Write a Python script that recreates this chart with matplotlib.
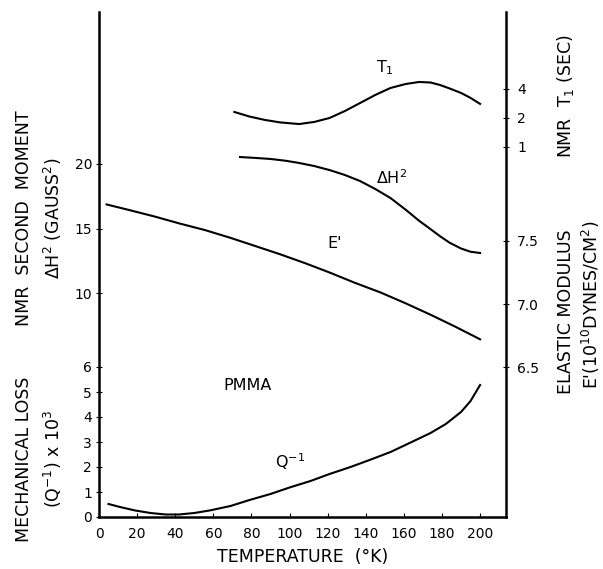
import numpy as np
import matplotlib
matplotlib.use("Agg")
import matplotlib.pyplot as plt

plt.rcParams['font.family'] = ['DejaVu Sans']
plt.rcParams['mathtext.default'] = 'regular'

# courbes (temperature en K)
temp_q = [5, 11, 19, 27, 35, 42, 50, 58, 69, 79, 90, 100, 111, 121, 132, 142,
          153, 163, 174, 182, 190, 195, 200]
q_inv = [0.52, 0.40, 0.26, 0.16, 0.10, 0.10, 0.16, 0.26, 0.44, 0.68, 0.92, 1.18,
         1.44, 1.72, 2.00, 2.28, 2.60, 2.96, 3.36, 3.72, 4.20, 4.64, 5.28]

temp_e = [4, 16, 29, 42, 56, 69, 82, 95, 108, 121, 134, 148, 161, 174, 187, 200]
e_mod = [7.79, 7.745, 7.695, 7.64, 7.585, 7.525, 7.46, 7.395, 7.325, 7.25, 7.17,
         7.09, 7.005, 6.915, 6.82, 6.72]

temp_h = [74, 82, 90, 98, 105, 113, 121, 129, 137, 145, 153, 161, 168, 174, 179,
          184, 190, 195, 200]
dh2 = [20.54, 20.47, 20.39, 20.25, 20.08, 19.84, 19.53, 19.15, 18.68, 18.06, 17.36,
       16.45, 15.60, 14.95, 14.40, 13.90, 13.45, 13.20, 13.10]

temp_t1 = [71, 79, 87, 95, 105, 113, 121, 129, 137, 145, 153, 161, 168, 174, 179,
           184, 190, 195, 200]
t1 = [2.31, 2.07, 1.91, 1.80, 1.73, 1.82, 2.00, 2.36, 2.86, 3.47, 4.10, 4.51, 4.73,
      4.67, 4.40, 4.05, 3.64, 3.23, 2.80]

x_ticks = list(range(0, 201, 20))
q_ticks = [0, 1, 2, 3, 4, 5, 6]
h_ticks = [10, 15, 20]
e_ticks = [6.5, 7.0, 7.5]
t1_ticks = [1, 2, 4]

W, H = 603, 569
fig = plt.figure(figsize=(W / 100, H / 100), dpi=100)

def fx(px):
    return px / W

def fy(py):
    return 1 - py / H

rect = [fx(99), fy(517), fx(506) - fx(99), fy(12) - fy(517)]
lw = 1.5
fs = 10      # graduations
fl = 11.5    # noms des courbes
ft = 12.5    # titres des axes

# axe principal : perte mecanique
ax = fig.add_axes(rect)
ax.set_xlim(0, 213.6)
ax.set_ylim(0, 20.2)
ax.plot(temp_q, q_inv, color='black', lw=lw)
ax.set_xticks(x_ticks)
ax.set_yticks(q_ticks)
ax.spines['top'].set_visible(False)
ax.spines['right'].set_visible(False)
for s in ['left', 'bottom']:
    ax.spines[s].set_linewidth(1.8)
ax.tick_params(axis='x', direction='in', length=3, pad=7, labelsize=fs)
ax.tick_params(axis='y', direction='inout', length=4, pad=3, labelsize=fs)

# second moment RMN
axh = ax.twinx()
axh.set_ylim(-7.36, 31.78)
axh.plot(temp_h, dh2, color='black', lw=lw)
axh.yaxis.tick_left()
axh.set_yticks(h_ticks)
axh.tick_params(axis='y', direction='inout', length=4, pad=3, labelsize=fs)
for s in axh.spines.values():
    s.set_visible(False)

# module elastique
axe = ax.twinx()
axe.set_ylim(5.31, 9.317)
axe.plot(temp_e, e_mod, color='black', lw=lw)
axe.set_yticks(e_ticks)
axe.set_yticklabels(['6.5', '7.0', '7.5'])
axe.tick_params(axis='y', direction='inout', length=4, pad=6, labelsize=fs)
for k, s in axe.spines.items():
    s.set_visible(k == 'right')
axe.spines['right'].set_linewidth(1.8)

# T1 RMN (echelle log)
axt = ax.twinx()
axt.set_yscale('log', base=2)
axt.set_ylim(2 ** -12.76, 2 ** 4.655)
axt.plot(temp_t1, t1, color='black', lw=lw)
axt.set_yticks(t1_ticks)
axt.set_yticklabels(['1', '2', '4'])
axt.minorticks_off()
axt.tick_params(axis='y', which='both', direction='inout', length=4, pad=6, labelsize=fs)
for s in axt.spines.values():
    s.set_visible(False)

# etiquettes des courbes
fig.text(fx(385), fy(68), 'T$_1$', ha='center', va='center', fontsize=fl)
fig.text(fx(392), fy(178), 'ΔH$^2$', ha='center', va='center', fontsize=fl)
fig.text(fx(335), fy(244), "E'", ha='center', va='center', fontsize=fl)
fig.text(fx(248), fy(385), 'PMMA', ha='center', va='center', fontsize=fl)
fig.text(fx(290), fy(462), 'Q$^{-1}$', ha='center', va='center', fontsize=fl)

# titres des axes
fig.text(fx(303), fy(557), 'TEMPERATURE  (°K)', ha='center', va='center', fontsize=ft)
fig.text(fx(24), fy(459), 'MECHANICAL LOSS', rotation=90, ha='center', va='center', fontsize=ft)
fig.text(fx(53), fy(459), '(Q$^{-1}$) x 10$^3$', rotation=90, ha='center', va='center', fontsize=ft)
fig.text(fx(24), fy(218), 'NMR  SECOND  MOMENT', rotation=90, ha='center', va='center', fontsize=ft)
fig.text(fx(53), fy(218), 'ΔH$^2$ (GAUSS$^2$)', rotation=90, ha='center', va='center', fontsize=ft)
fig.text(fx(566), fy(96), 'NMR  T$_1$ (SEC)', rotation=90, ha='center', va='center', fontsize=ft)
fig.text(fx(566), fy(312), 'ELASTIC MODULUS', rotation=90, ha='center', va='center', fontsize=ft)
fig.text(fx(591), fy(305), "E'(10$^{10}$DYNES/CM$^2$)", rotation=90, ha='center', va='center', fontsize=ft)

fig.savefig('out.png', dpi=100)
